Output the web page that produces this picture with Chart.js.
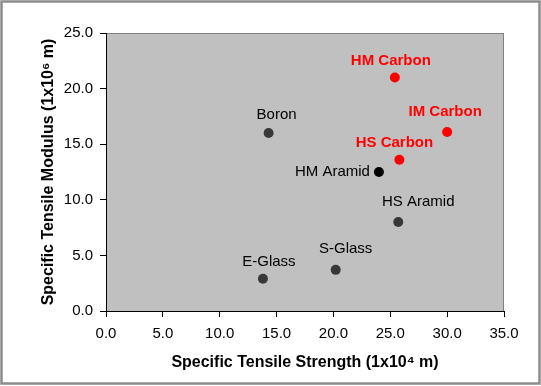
<!DOCTYPE html>
<html>
<head>
<meta charset="utf-8">
<script src="https://cdn.jsdelivr.net/npm/chart.js@4.4.1/dist/chart.umd.min.js"></script>
<style>
  html, body { margin: 0; padding: 0; background: #fff; }
  #wrap { width: 541px; height: 386px; position: relative; }
</style>
</head>
<body>
<div id="wrap"><canvas id="fibreChart"></canvas></div>
<script>
// Fibre data (specific strength x1e4 m, specific modulus x1e6 m)
const materials = ['E-Glass', 'S-Glass', 'HS Aramid', 'HM Aramid', 'Boron', 'HS Carbon', 'IM Carbon', 'HM Carbon'];
const strength = [13.8, 20.2, 25.7, 24.0, 14.3, 25.8, 30.0, 25.4];
const modulus = [2.9, 3.7, 8.0, 12.5, 16.0, 13.6, 16.1, 21.0];
const isCarbon = [false, false, false, false, false, true, true, true];

const xTicks = [0, 5, 10, 15, 20, 25, 30, 35];
const yTicks = [0, 5, 10, 15, 20, 25];

// label placement relative to point (px), per material
const labelOffsets = [[6, -17], [10, -21], [20, -20], [-9, 0], [8, -18], [-5, -17], [-2, -20], [-4, -17]];

const pointColors = materials.map((m, i) => isCarbon[i] ? '#ff0000' : (m === 'HM Aramid' ? '#000000' : '#383838'));

// Plot background, plot border and the grey frame round the picture
const framePlugin = {
    id: 'frame',
    beforeDraw(chart) {
        const { ctx, chartArea: a } = chart;
        ctx.save();
        ctx.fillStyle = '#ffffff';
        ctx.fillRect(0, 0, chart.width, chart.height);
        ctx.fillStyle = '#c0c0c0';
        ctx.fillRect(a.left, a.top, a.right - a.left, a.bottom - a.top);
        ctx.strokeStyle = '#808080';
        ctx.lineWidth = 1;
        ctx.strokeRect(a.left + 0.5, a.top + 0.5, a.right - a.left - 1, a.bottom - a.top);
        ctx.restore();
    },
    afterDraw(chart) {
        const ctx = chart.ctx;
        ctx.save();
        ctx.strokeStyle = '#8c8c8c';
        ctx.lineWidth = 2.5;
        ctx.strokeRect(1.5, 1.5, chart.width - 3, chart.height - 4);
        ctx.restore();
    }
};

// Material names next to their points
const labelPlugin = {
    id: 'pointLabels',
    afterDatasetsDraw(chart) {
        const { ctx } = chart;
        const meta = chart.getDatasetMeta(0);
        ctx.save();
        ctx.textBaseline = 'middle';
        meta.data.forEach((pt, i) => {
            const [dx, dy] = labelOffsets[i];
            ctx.font = (isCarbon[i] ? 'bold ' : '') + '15px "Liberation Sans", Arial, sans-serif';
            ctx.fillStyle = isCarbon[i] ? '#ff0000' : '#000000';
            ctx.textAlign = dy === 0 ? 'right' : 'center';
            ctx.fillText(materials[i], pt.x + dx, pt.y + dy);
        });
        ctx.restore();
    }
};

const tickFont = { family: '"Liberation Sans", Arial, sans-serif', size: 15 };
const titleFont = { family: '"Liberation Sans", Arial, sans-serif', size: 16, weight: 'bold' };

new Chart(document.getElementById('fibreChart'), {
    type: 'scatter',
    data: {
        datasets: [{
            data: strength.map((s, i) => ({ x: s, y: modulus[i] })),
            pointRadius: 5,
            pointHoverRadius: 5,
            pointBackgroundColor: pointColors,
            pointBorderColor: pointColors,
            pointBorderWidth: 0
        }]
    },
    options: {
        responsive: true,
        maintainAspectRatio: false,
        animation: false,
        layout: { padding: { top: 33, right: 37, left: 0, bottom: 0 } },
        plugins: {
            legend: { display: false },
            tooltip: { enabled: false }
        },
        scales: {
            x: {
                type: 'linear',
                min: 0,
                max: 35,
                afterBuildTicks: scale => { scale.ticks = xTicks.map(v => ({ value: v })); },
                afterFit: scale => { scale.height = 75; },
                grid: { drawOnChartArea: false, color: '#000', tickLength: 6 },
                border: { color: '#000', width: 1 },
                ticks: {
                    color: '#000',
                    font: tickFont,
                    padding: 8,
                    maxRotation: 0,
                    callback: v => v.toFixed(1)
                },
                title: {
                    display: true,
                    text: 'Specific Tensile Strength (1x10\u2074 m)',
                    color: '#000',
                    font: titleFont,
                    padding: { bottom: 14 }
                }
            },
            y: {
                type: 'linear',
                min: 0,
                max: 25,
                afterBuildTicks: scale => { scale.ticks = yTicks.map(v => ({ value: v })); },
                afterFit: scale => { scale.width = 106; },
                grid: { drawOnChartArea: false, color: '#000', tickLength: 6 },
                border: { color: '#000', width: 1 },
                ticks: {
                    color: '#000',
                    font: tickFont,
                    padding: 7,
                    callback: v => v.toFixed(1)
                },
                title: {
                    display: true,
                    text: 'Specific Tensile Modulus (1x10\u2076 m)',
                    color: '#000',
                    font: titleFont,
                    padding: { top: 39 }
                }
            }
        }
    },
    plugins: [framePlugin, labelPlugin]
});
</script>
</body>
</html>
